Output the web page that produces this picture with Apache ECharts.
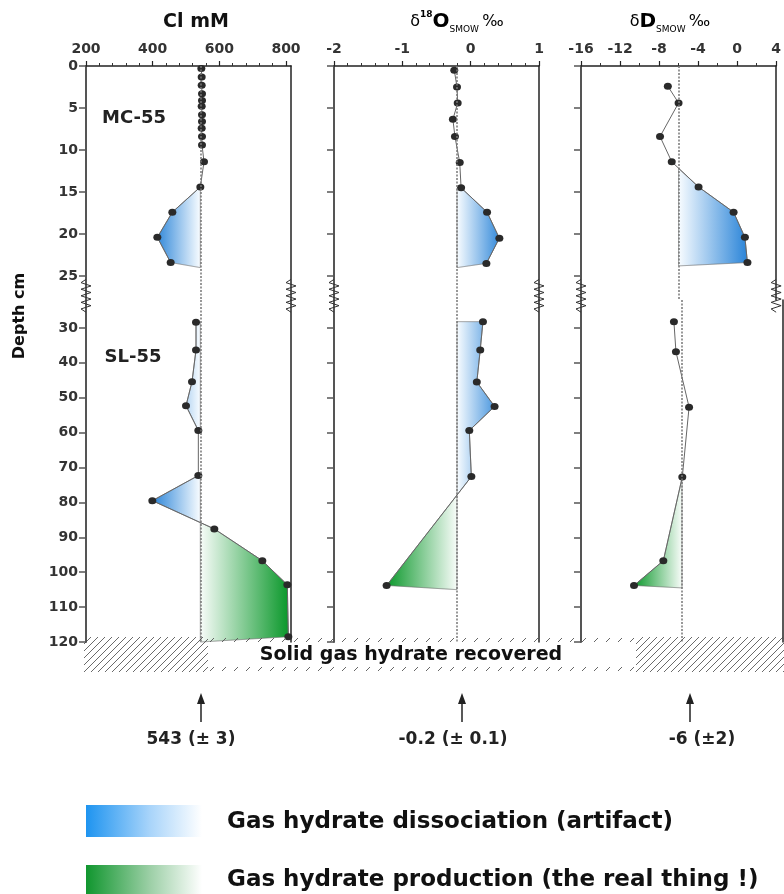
<!DOCTYPE html>
<html><head><meta charset="utf-8">
<script src="https://cdn.jsdelivr.net/npm/echarts@6/dist/echarts.min.js"></script>
<style>html,body{margin:0;padding:0;background:#fff}#c{width:784px;height:894px}</style>
</head><body><div id="c"></div>
<script>
// ---------------- data ----------------
const clTicks = [200, 400, 600, 800];
const o18Ticks = [-2, -1, 0, 1];
const dDTicks = [-16, -12, -8, -4, 0, 4];
const depthTicksTop = [0, 5, 10, 15, 20, 25];
const depthTicksBottom = [30, 40, 50, 60, 70, 80, 90, 100, 110, 120];

// MC-55 (upper, 0-25 cm) and SL-55 (lower, 30-120 cm)
const mcDepthCl = [0.3, 1.3, 2.3, 3.3, 4.1, 4.8, 5.8, 6.6, 7.4, 8.4, 9.4, 11.4, 14.4, 17.4, 20.4, 23.4];
const mcCl      = [546, 547, 547, 548, 548, 547, 548, 548, 547, 548, 548, 554, 543, 459, 414, 454];
const slDepthCl = [28.4, 36.3, 45.4, 52.3, 59.4, 72.3, 79.5, 87.6, 96.7, 103.6, 118.5];
const slCl      = [530, 530, 518, 500, 537, 537, 399, 585, 729, 804, 807];

const mcDepthO = [0.5, 2.5, 4.4, 6.35, 8.4, 11.5, 14.5, 17.4, 20.5, 23.5];
const mcO      = [-0.24, -0.2, -0.19, -0.26, -0.23, -0.16, -0.14, 0.24, 0.42, 0.23];
const slDepthO = [28.2, 36.3, 45.5, 52.5, 59.4, 72.6, 103.8];
const slO      = [0.18, 0.14, 0.09, 0.35, -0.02, 0.01, -1.23];

const mcDepthD = [2.4, 4.4, 8.4, 11.4, 14.4, 17.4, 20.4, 23.4];
const mcD      = [-7.1, -6.0, -7.9, -6.7, -3.95, -0.36, 0.8, 1.06];
const slDepthD = [28.2, 36.8, 52.7, 72.7, 96.7, 103.8];
const slD      = [-6.8, -6.6, -5.3, -5.97, -7.85, -10.75];

const refValues = [543, -0.2, -6];
const refLabels = ['543 (± 3)', '-0.2 (± 0.1)', '-6 (±2)'];

// shaded regions: data index range + depths where the profile meets the reference value
const fills = [
  {panel: 0, part: 'mc', from: 12, to: 15, start: 14.4, end: 24,   kind: 'blue'},
  {panel: 0, part: 'sl', from: 0,  to: 4,  start: 28.4, end: 59.4, kind: 'blue'},
  {panel: 0, part: 'sl', from: 5,  to: 6,  start: 72.3, end: 85.8, kind: 'blue'},
  {panel: 0, part: 'sl', from: 7,  to: 10, start: 85.8, end: 120,  kind: 'green'},
  {panel: 1, part: 'mc', from: 6,  to: 9,  start: 14.5, end: 24,   kind: 'blue'},
  {panel: 1, part: 'sl', from: 0,  to: 5,  start: 28.2, end: 77.9, kind: 'blue'},
  {panel: 1, part: 'sl', from: 6,  to: 6,  start: 77.9, end: 105,  kind: 'green'},
  {panel: 2, part: 'mc', from: 4,  to: 7,  start: 12.2, end: 23.8, kind: 'blue'},
  {panel: 2, part: 'sl', from: 3,  to: 5,  start: 72.7, end: 104.5, kind: 'green'}
];

// ---------------- layout ----------------
const FONT = 'DejaVu Sans';
const TOP = {top: 66, height: 234, min: 0, max: 234 / 8.4};
const BOT = {top: 300, height: 342, min: 22, max: 120};
const panels = [
  {left: 86,  width: 205, min: 200, max: 815, ticks: clTicks,  minorStep: 40,  labels: true},
  {left: 334, width: 205, min: -2,  max: 1,   ticks: o18Ticks, minorStep: 0.2, labels: false},
  {left: 581, width: 202, min: -16, max: 4,   ticks: dDTicks,  minorStep: 2,   labels: false}
];
const profiles = [
  {mc: [mcCl, mcDepthCl], sl: [slCl, slDepthCl]},
  {mc: [mcO, mcDepthO],   sl: [slO, slDepthO]},
  {mc: [mcD, mcDepthD],   sl: [slD, slDepthD]}
];

function minorVals(p) {
  const out = [];
  const n = Math.round((p.max - p.min) / p.minorStep);
  for (let k = 0; k <= n; k++) {
    const v = +(p.min + k * p.minorStep).toFixed(4);
    if (v <= p.max && !p.ticks.some(t => Math.abs(t - v) < 1e-6)) out.push(v);
  }
  return out;
}

const grid = [], xAxis = [], yAxis = [], series = [];
function yLeft(gi, part, showLabels, ticks) {
  return {type: 'value', gridIndex: gi, inverse: true, min: part.min, max: part.max, position: 'left',
    axisLine: {show: true, onZero: false, lineStyle: {color: '#555', width: 2}},
    axisTick: {show: true, customValues: ticks, length: 7, lineStyle: {color: '#555', width: 1.5}},
    axisLabel: {show: showLabels, customValues: ticks, margin: 8, fontFamily: FONT, fontWeight: 'bold', fontSize: 14, color: '#333'},
    splitLine: {show: false}};
}
function yRight(gi, part) {
  return {type: 'value', gridIndex: gi, inverse: true, min: part.min, max: part.max, position: 'right',
    axisLine: {show: true, onZero: false, lineStyle: {color: '#222', width: 1.5}},
    axisTick: {show: false}, axisLabel: {show: false}, splitLine: {show: false}};
}

panels.forEach((p, i) => {
  grid.push({left: p.left, width: p.width, top: TOP.top, height: TOP.height});
  grid.push({left: p.left, width: p.width, top: BOT.top, height: BOT.height});
  xAxis.push({type: 'value', gridIndex: 2 * i, position: 'top', min: p.min, max: p.max,
    axisLine: {show: true, onZero: false, lineStyle: {color: '#222', width: 1.5}},
    axisTick: {show: true, customValues: p.ticks, length: 5, lineStyle: {color: '#222', width: 1.2}},
    axisLabel: {show: true, customValues: p.ticks, margin: 10, fontFamily: FONT, fontWeight: 'bold', fontSize: 14, color: '#333'},
    splitLine: {show: false}});
  xAxis.push({type: 'value', gridIndex: 2 * i, position: 'top', min: p.min, max: p.max,
    axisLine: {show: false, onZero: false},
    axisTick: {show: true, customValues: minorVals(p), length: 3, lineStyle: {color: '#333', width: 1}},
    axisLabel: {show: false}, splitLine: {show: false}});
  xAxis.push({type: 'value', gridIndex: 2 * i + 1, show: false, min: p.min, max: p.max, splitLine: {show: false}});
  yAxis.push(yLeft(2 * i, TOP, p.labels, depthTicksTop));
  yAxis.push(yRight(2 * i, TOP));
  yAxis.push(yLeft(2 * i + 1, BOT, p.labels, depthTicksBottom));
  yAxis.push(yRight(2 * i + 1, BOT));

  ['mc', 'sl'].forEach(part => {
    const [vals, deps] = profiles[i][part];
    series.push({
      type: 'line', xAxisIndex: part === 'mc' ? 3 * i : 3 * i + 2, yAxisIndex: part === 'mc' ? 4 * i : 4 * i + 2,
      data: vals.map((v, k) => [v, deps[k]]), symbol: 'circle', symbolSize: [8, 7], showSymbol: true,
      itemStyle: {color: '#2a2a2a'}, lineStyle: {color: '#666', width: 1}, z: 3, silent: true,
      markLine: {symbol: 'none', silent: true, label: {show: false},
        lineStyle: {type: [2, 1.5], color: '#777', width: 1.5}, data: [{xAxis: refValues[i]}]}
    });
  });
});

fills.forEach(f => {
  const [vals, deps] = profiles[f.panel][f.part];
  const ref = refValues[f.panel];
  const pts = [[ref, f.start]];
  for (let k = f.from; k <= f.to; k++) pts.push([vals[k], deps[k]]);
  pts.push([ref, f.end]);
  const dark = f.kind === 'blue' ? '#2a84d8' : '#0b982b';
  const light = f.kind === 'blue' ? '#f8fcff' : '#f8fcf9';
  series.push({
    type: 'custom', silent: true, z: 1,
    xAxisIndex: f.part === 'mc' ? 3 * f.panel : 3 * f.panel + 2,
    yAxisIndex: f.part === 'mc' ? 4 * f.panel : 4 * f.panel + 2,
    data: [pts[0]], encode: {x: 0, y: 1},
    renderItem: (params, api) => {
      const px = pts.map(q => api.coord(q));
      const refX = px[0][0];
      let far = px[0][0];
      px.forEach(q => { if (Math.abs(q[0] - refX) > Math.abs(far - refX)) far = q[0]; });
      const dir = far < refX ? -1 : 1;
      const span = Math.max(Math.abs(far - refX), 45);
      const grad = new echarts.graphic.LinearGradient(refX, 0, refX + dir * span, 0,
        [{offset: 0, color: light}, {offset: 1, color: dark}], true);
      return {type: 'polygon', shape: {points: px},
        style: {fill: grad, stroke: 'rgba(110,110,110,0.5)', lineWidth: 0.7}};
    }
  });
});

const chart = echarts.init(document.getElementById('c'), null, {renderer: 'canvas', width: 784, height: 894});
chart.setOption({animation: false, grid, xAxis, yAxis, series});

// ---------------- decorations ----------------
const g = [];
const toPx = (i, part, x, y) => chart.convertToPixel(
  {xAxisIndex: part === 'mc' ? 3 * i : 3 * i + 2, yAxisIndex: part === 'mc' ? 4 * i : 4 * i + 2}, [x, y]);

// axis breaks (zigzags)
panels.forEach((p, i) => {
  const y0 = toPx(i, 'mc', p.min, 25.4)[1];
  const y1 = toPx(i, 'sl', p.min, 25.5)[1];
  [p.min, p.max].forEach(xv => {
    const ax = toPx(i, 'mc', xv, 0)[0];
    const pts = [];
    const n = 10;
    for (let k = 0; k <= n; k++) pts.push([ax + (k === 0 || k === n ? 0 : (k % 2 ? -5 : 5)), y0 + (y1 - y0) * k / n]);
    g.push({type: 'polyline', shape: {points: pts}, style: {stroke: '#333', lineWidth: 1, fill: null}, z: 10});
  });
});

// hatched band below 120 cm
const bandTop = toPx(0, 'sl', 200, 120)[1] - 5;
const bandBot = bandTop + 35;
function hatch(x0, x1, step) {
  const h = bandBot - bandTop;
  for (let c = x0 - h; c < x1; c += step) {
    let ax = c, ay = bandBot, bx = c + h, by = bandTop;
    if (ax < x0) { ay = bandBot - (x0 - ax); ax = x0; }
    if (bx > x1) { by = bandTop + (bx - x1); bx = x1; }
    if (ax >= bx) continue;
    g.push({type: 'line', shape: {x1: ax, y1: ay, x2: bx, y2: by},
      style: {stroke: '#444', lineWidth: 0.8}, z: 10});
  }
}
hatch(84, 208, 7);
hatch(636, 786, 7);
for (let x = 210; x < 636; x += 12) {
  g.push({type: 'line', shape: {x1: x, y1: bandTop + 5, x2: x + 4, y2: bandTop + 1}, style: {stroke: '#555', lineWidth: 0.9}, z: 10});
  g.push({type: 'line', shape: {x1: x, y1: bandBot - 1, x2: x + 4, y2: bandBot - 5}, style: {stroke: '#555', lineWidth: 0.9}, z: 10});
}
g.push({type: 'text', x: 411, y: bandTop + 18, z: 11,
  style: {text: 'Solid gas hydrate recovered', font: 'bold 19px "DejaVu Sans"', fill: '#111', align: 'center', verticalAlign: 'middle'}});

// titles
g.push({type: 'text', x: 196, y: 22, style: {text: 'Cl mM', font: 'bold 19px "DejaVu Sans"', fill: '#111', align: 'center', verticalAlign: 'middle'}});
const rich = {
  g: {fontFamily: FONT, fontSize: 16, color: '#666', lineHeight: 24},
  sup: {fontFamily: FONT, fontSize: 9, fontWeight: 'bold', color: '#333', verticalAlign: 'top', lineHeight: 24},
  b: {fontFamily: FONT, fontSize: 20, fontWeight: 'bold', color: '#111', lineHeight: 24},
  sub: {fontFamily: FONT, fontSize: 9, color: '#444', verticalAlign: 'bottom', lineHeight: 24}
};
g.push({type: 'text', x: 457, y: 22, style: {text: '{g|δ}{sup|18}{b|O}{sub|SMOW} {g|‰}', rich, align: 'center', verticalAlign: 'middle'}});
g.push({type: 'text', x: 670, y: 22, style: {text: '{g|δ}{b|D}{sub|SMOW} {g|‰}', rich, align: 'center', verticalAlign: 'middle'}});

// axis name and core labels
g.push({type: 'text', x: 20, y: 316, rotation: Math.PI / 2,
  style: {text: 'Depth cm', font: 'bold 16px "DejaVu Sans"', fill: '#111', align: 'center', verticalAlign: 'middle'}});
g.push({type: 'text', x: 134, y: 118, style: {text: 'MC-55', font: 'bold 18px "DejaVu Sans"', fill: '#222', align: 'center', verticalAlign: 'middle'}});
g.push({type: 'text', x: 133, y: 357, style: {text: 'SL-55', font: 'bold 18px "DejaVu Sans"', fill: '#222', align: 'center', verticalAlign: 'middle'}});

// arrows with background values
const arrowX = [201, 462, 690];
const labelX = [191, 453, 702];
arrowX.forEach((x, i) => {
  g.push({type: 'line', shape: {x1: x, y1: 702, x2: x, y2: 722}, style: {stroke: '#222', lineWidth: 1.5}});
  g.push({type: 'polygon', shape: {points: [[x, 693], [x - 4, 704], [x + 4, 704]]}, style: {fill: '#222'}});
  g.push({type: 'text', x: labelX[i], y: 740, style: {text: refLabels[i], font: 'bold 17px "DejaVu Sans"', fill: '#222', align: 'center', verticalAlign: 'middle'}});
});

// legend
g.push({type: 'rect', shape: {x: 86, y: 805, width: 116, height: 32},
  style: {fill: new echarts.graphic.LinearGradient(0, 0, 1, 0, [{offset: 0, color: '#1e94f0'}, {offset: 0.55, color: '#a8d4fa'}, {offset: 1, color: '#ffffff'}])}});
g.push({type: 'rect', shape: {x: 86, y: 865, width: 116, height: 30},
  style: {fill: new echarts.graphic.LinearGradient(0, 0, 1, 0, [{offset: 0, color: '#10962e'}, {offset: 0.55, color: '#9ccfa6'}, {offset: 1, color: '#ffffff'}])}});
g.push({type: 'text', x: 227, y: 822, style: {text: 'Gas hydrate dissociation (artifact)', font: 'bold 23px "DejaVu Sans"', fill: '#111', verticalAlign: 'middle'}});
g.push({type: 'text', x: 227, y: 880, style: {text: 'Gas hydrate production (the real thing !)', font: 'bold 23px "DejaVu Sans"', fill: '#111', verticalAlign: 'middle'}});

chart.setOption({graphic: g});
</script></body></html>
